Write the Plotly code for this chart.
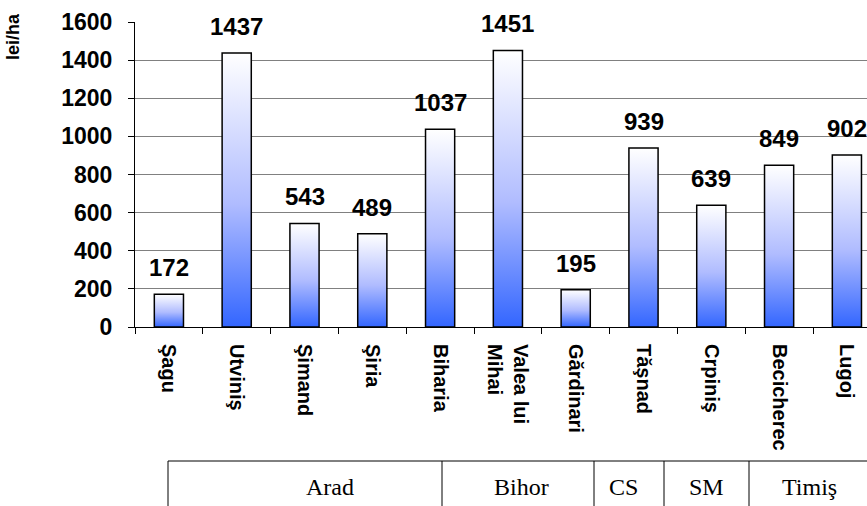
import plotly.graph_objects as go

categories = ["Şagu", "Utviniş", "Şimand", "Şiria", "Biharia", "Valea lui<br>Mihai",
              "Gărdinari", "Tăşnad", "Crpiniş", "Becicherec", "Lugoj"]
values = [172, 1437, 543, 489, 1037, 1451, 195, 939, 639, 849, 902]
groups = ["Arad", "Bihor", "CS", "SM", "Timiş"]
y_title = "lei/ha"

W, H = 867, 506
L, R, T, B = 135, 0, 22, 179
plot_w = W - L - R
plot_h = H - T - B
cat_px = 67.8
x_max = -0.5 + plot_w / cat_px

def px_to_paper_x(px):
    return (px - L) / plot_w

def px_to_paper_y(py):
    return (H - B - py) / plot_h

bar_half = 0.215
colorscale = [[0.0, "#3366ff"], [0.45, "#b0bcff"], [1.0, "#ffffff"]]

fig = go.Figure()
for i, v in enumerate(values):
    fig.add_trace(go.Scatter(
        x=[i - bar_half, i + bar_half, i + bar_half, i - bar_half, i - bar_half],
        y=[0, 0, v, v, 0],
        mode="lines",
        fill="toself",
        fillgradient=dict(type="vertical", colorscale=colorscale, start=0, stop=v),
        line=dict(color="black", width=1.5),
        hoverinfo="skip",
        showlegend=False,
    ))

val_font = dict(family="Liberation Sans", size=24, color="black", weight="bold")
tick_font = dict(family="Liberation Sans", size=23, color="black", weight="bold")

annotations = []
for i, v in enumerate(values):
    annotations.append(dict(
        x=i, y=v, xref="x", yref="y", text=str(v), showarrow=False,
        xanchor="center", yanchor="bottom", yshift=11, font=val_font,
    ))

annotations.append(dict(
    x=px_to_paper_x(13), y=px_to_paper_y(37), xref="paper", yref="paper",
    text=y_title, textangle=-90, showarrow=False, xanchor="center", yanchor="middle",
    font=dict(family="Liberation Sans", size=18, color="black", weight="bold"),
))

group_centers = [330, 521, 623, 706, 809]
for g, cx in zip(groups, group_centers):
    annotations.append(dict(
        x=px_to_paper_x(cx), y=px_to_paper_y(487), xref="paper", yref="paper",
        text=g, showarrow=False, xanchor="center", yanchor="middle",
        font=dict(family="Liberation Serif", size=24, color="black"),
    ))

shapes = []
y_top = px_to_paper_y(461)
y_bot = px_to_paper_y(520)
shapes.append(dict(type="line", xref="paper", yref="paper",
                   x0=px_to_paper_x(168), x1=1.0, y0=y_top, y1=y_top,
                   line=dict(color="black", width=1)))
for vx in [168, 442, 594, 664, 749]:
    shapes.append(dict(type="line", xref="paper", yref="paper",
                       x0=px_to_paper_x(vx), x1=px_to_paper_x(vx), y0=y_top, y1=y_bot,
                       line=dict(color="black", width=1)))

fig.update_layout(
    width=W, height=H,
    margin=dict(l=L, r=R, t=T, b=B, pad=0),
    paper_bgcolor="white", plot_bgcolor="white",
    annotations=annotations,
    shapes=shapes,
    xaxis=dict(
        range=[-0.5, x_max], tickmode="array",
        tickvals=list(range(len(categories))), ticktext=categories,
        tickangle=90, ticks="", ticklabelstandoff=12,
        tickfont=dict(family="Liberation Sans", size=20, color="black", weight="bold"),
        showline=True, linecolor="black", linewidth=1,
        showgrid=False, zeroline=False,
        minor=dict(tickmode="array", tickvals=[k - 0.5 for k in range(len(categories) + 1)],
                   ticks="outside", ticklen=6, tickcolor="black", tickwidth=1, showgrid=False),
        fixedrange=True,
    ),
    yaxis=dict(
        range=[0, 1600], tickmode="linear", tick0=0, dtick=200,
        ticks="outside", ticklen=6, tickcolor="black", tickwidth=1,
        ticklabelstandoff=11,
        tickfont=tick_font,
        showline=True, linecolor="black", linewidth=1,
        showgrid=True, gridcolor="#808080", gridwidth=1,
        zeroline=False, fixedrange=True,
    ),
)

fig.write_html("out.html")
